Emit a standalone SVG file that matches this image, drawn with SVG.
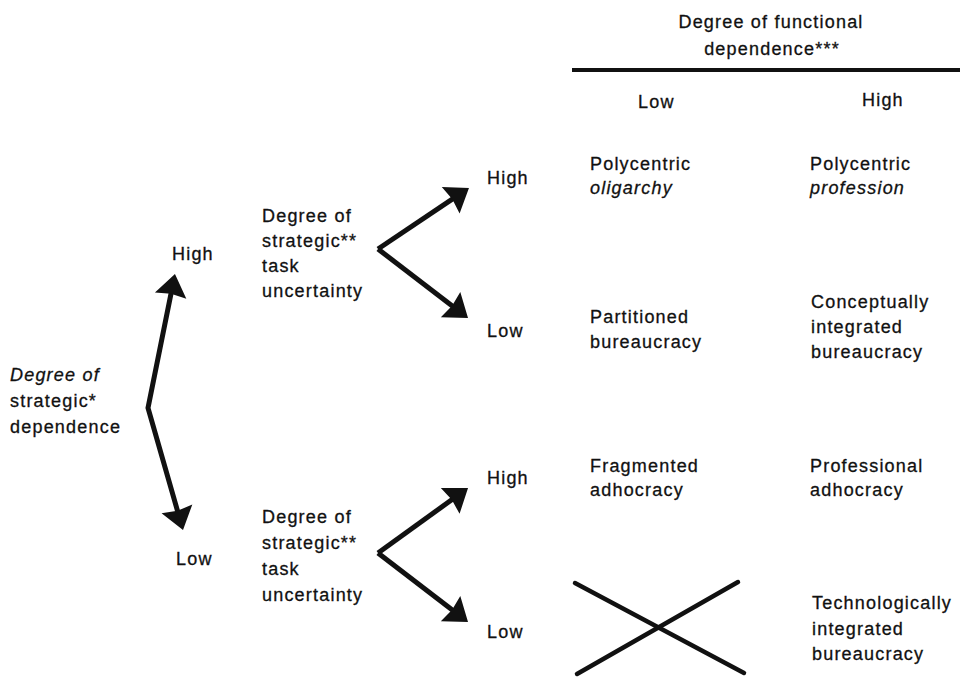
<svg xmlns="http://www.w3.org/2000/svg" width="960" height="678" viewBox="0 0 960 678">
<style>
text{font-family:"Liberation Sans",Arial,Helvetica,sans-serif;font-size:18px;letter-spacing:1.2px;fill:#111;stroke:#111;stroke-width:0.3}
.i{font-style:italic}
.m{text-anchor:middle}
.a{fill:none;stroke:#111;stroke-width:5;stroke-linejoin:miter;marker-end:url(#ah)}
.s{marker-start:url(#ah)}
.x{stroke:#111;stroke-width:4.5;stroke-linecap:round}
</style>
<defs>
<marker id="ah" markerUnits="userSpaceOnUse" markerWidth="26" markerHeight="36" viewBox="-24 -18 26 36" refX="-12" refY="0" orient="auto-start-reverse">
<path d="M0,0 L-22,-16 L-20,0 L-22,16 Z" fill="#111"/>
</marker>
</defs>
<rect width="960" height="678" fill="#fff"/>
<g id="header">
<text class="m" x="771" y="28">Degree of functional</text>
<text class="m" x="772" y="55">dependence***</text>
<line x1="572" y1="70" x2="960" y2="70" stroke="#111" stroke-width="4"/>
<text x="638" y="108">Low</text>
<text x="862" y="106">High</text>
</g>
<g id="root">
<text class="i" x="10" y="381">Degree of</text>
<text x="10" y="407">strategic*</text>
<text x="10" y="433">dependence</text>
<text x="172" y="260">High</text>
<text x="176" y="565">Low</text>
</g>
<g id="branch-high">
<text x="262" y="222">Degree of</text>
<text x="262" y="247">strategic**</text>
<text x="262" y="272">task</text>
<text x="262" y="297">uncertainty</text>
<text x="487" y="184">High</text>
<text x="487" y="337">Low</text>
</g>
<g id="branch-low">
<text x="262" y="523">Degree of</text>
<text x="262" y="549">strategic**</text>
<text x="262" y="575">task</text>
<text x="262" y="601">uncertainty</text>
<text x="487" y="484">High</text>
<text x="487" y="638">Low</text>
</g>
<g id="cell-1-1"><text x="590" y="170">Polycentric</text><text class="i" x="590" y="194">oligarchy</text></g>
<g id="cell-1-2"><text x="810" y="170">Polycentric</text><text class="i" x="810" y="194">profession</text></g>
<g id="cell-2-1"><text x="590" y="323">Partitioned</text><text x="590" y="348">bureaucracy</text></g>
<g id="cell-2-2"><text x="811" y="308">Conceptually</text><text x="811" y="333">integrated</text><text x="811" y="358">bureaucracy</text></g>
<g id="cell-3-1"><text x="590" y="472">Fragmented</text><text x="590" y="496">adhocracy</text></g>
<g id="cell-3-2"><text x="810" y="472">Professional</text><text x="810" y="496">adhocracy</text></g>
<g id="cell-4-1"><line class="x" x1="575" y1="583" x2="744" y2="673"/><line class="x" x1="738" y1="582" x2="577" y2="674"/></g>
<g id="cell-4-2"><text x="812" y="609">Technologically</text><text x="812" y="635">integrated</text><text x="812" y="660">bureaucracy</text></g>
<g id="connectors">
<path class="a s" d="M172.6,285.8 L148,408 L179.7,518.5"/>
<path class="a" d="M378,249 L459,194.7"/>
<path class="a" d="M378,249 L458.5,310.7"/>
<path class="a" d="M378,553 L458.3,495"/>
<path class="a" d="M378,553 L458.5,614.7"/>
</g>
</svg>
